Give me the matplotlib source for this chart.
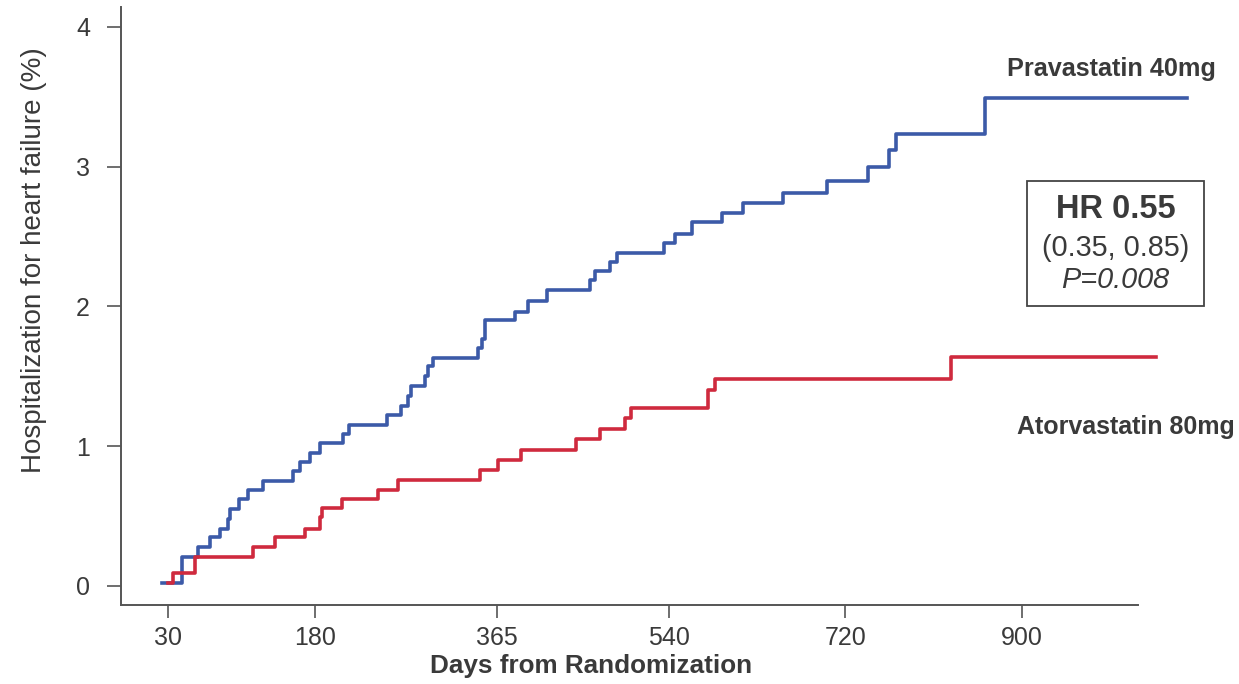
import matplotlib
matplotlib.use("Agg")
import matplotlib.pyplot as plt
from matplotlib.patches import Rectangle

plt.rcParams['font.family'] = ['Liberation Sans', 'DejaVu Sans']

# Kaplan-Meier style cumulative incidence (days, %)
prava_days = [24, 44, 61, 73, 83, 91, 93, 102, 112, 127, 158, 165, 175, 185,
              208, 215, 253, 268, 275, 278, 292, 295, 300, 346, 350, 353, 384,
              397, 416, 460, 465, 480, 487, 535, 547, 564, 594, 616, 657, 701,
              743, 765, 772, 862, 1068]
prava_pct = [0.02, 0.21, 0.28, 0.35, 0.41, 0.48, 0.55, 0.62, 0.69, 0.75, 0.82,
             0.89, 0.95, 1.02, 1.09, 1.15, 1.22, 1.29, 1.36, 1.43, 1.50, 1.57,
             1.63, 1.70, 1.77, 1.90, 1.96, 2.04, 2.12, 2.19, 2.25, 2.32, 2.38,
             2.45, 2.52, 2.60, 2.67, 2.74, 2.81, 2.90, 3.00, 3.12, 3.23, 3.49,
             3.49]

atorva_days = [30, 35, 58, 117, 139, 170, 185, 187, 207, 244, 264, 348, 366,
               390, 446, 470, 496, 502, 580, 587, 828, 1036]
atorva_pct = [0.02, 0.09, 0.21, 0.28, 0.35, 0.41, 0.49, 0.56, 0.62, 0.69, 0.76,
              0.83, 0.90, 0.97, 1.05, 1.12, 1.20, 1.27, 1.40, 1.48, 1.64, 1.64]

xticks = [30, 180, 365, 540, 720, 900]
yticks = [0, 1, 2, 3, 4]

blue = '#3c5aa8'
red = '#cf2a3e'
grey = '#3a3a3a'

fig = plt.figure(figsize=(12.39, 6.84), dpi=100)
ax = fig.add_axes([0.0974, 0.1155, 0.821, 0.874])

ax.step(prava_days, prava_pct, where='post', color=blue, lw=2.6, clip_on=False)
ax.step(atorva_days, atorva_pct, where='post', color=red, lw=2.6, clip_on=False)

ax.set_xlim(-18, 1018)
ax.set_ylim(-0.136, 4.14)
ax.set_xticks(xticks)
ax.set_yticks(yticks)
for s in ['top', 'right']:
    ax.spines[s].set_visible(False)
for s in ['left', 'bottom']:
    ax.spines[s].set_color('#555555')
    ax.spines[s].set_linewidth(1.4)
ax.tick_params(width=1.2, color='#555555', labelsize=18, labelcolor=grey)
ax.tick_params(axis='y', length=10, pad=12)
ax.tick_params(axis='x', length=9, pad=6)

ax.set_ylabel('Hospitalization for heart failure (%)', fontsize=20,
              color=grey, va='center')
ax.yaxis.set_label_coords(-0.0852, 0.577)
ax.set_xlabel('Days from Randomization', fontsize=18.8, fontweight='bold',
              color=grey, va='center')
ax.xaxis.set_label_coords(0.4623, -0.102)

ax.text(991, 3.70, 'Pravastatin 40mg', fontsize=18.2, fontweight='bold',
        color=grey, ha='center', va='center', clip_on=False)
ax.text(1006, 1.137, 'Atorvastatin 80mg', fontsize=18, fontweight='bold',
        color=grey, ha='center', va='center', clip_on=False)

ax.add_patch(Rectangle((904.6, 2.0), 180.8, 0.90, fill=False,
                       edgecolor='#444444', lw=1.3, clip_on=False))
ax.text(995, 2.69, 'HR 0.55', fontsize=23.5, fontweight='bold', color=grey,
        ha='center', va='center')
ax.text(995, 2.42, '(0.35, 0.85)', fontsize=20.8, color=grey,
        ha='center', va='center')
ax.text(995, 2.19, 'P=0.008', fontsize=20.8, style='italic', color=grey,
        ha='center', va='center')

plt.savefig('out.png', dpi=100)
